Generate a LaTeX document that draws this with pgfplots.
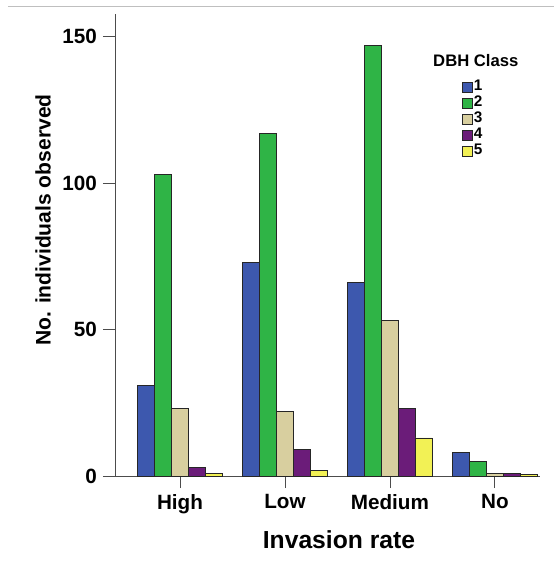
\documentclass[border=0pt]{standalone}
\usepackage{pgfplots}
\pgfplotsset{compat=1.18}
\usepackage{fontspec}
\setmainfont{Liberation Sans}
\definecolor{c1}{HTML}{3D58AE}
\definecolor{c2}{HTML}{2FB446}
\definecolor{c3}{HTML}{D8CF9F}
\definecolor{c4}{HTML}{6B1C79}
\definecolor{c5}{HTML}{F2F155}
\begin{document}
\begin{tikzpicture}
\path[use as bounding box] (-86.25pt,-67.5pt) rectangle (329.25pt,357pt);
\draw[black!25, line width=0.6pt] (-80.25pt,352.5pt) -- (329.25pt,352.5pt);
\begin{axis}[
  at={(0,0)}, anchor=south west,
  scale only axis,
  width=318.75pt, height=346.5pt,
  ybar=0pt, bar width=0.162,
  xmin=-0.619, xmax=3.43,
  ymin=0, ymax=157.8,
  axis x line*=bottom, axis y line*=left,
  axis line style={black!70, line width=0.6pt},
  xtick={0,1,2,3},
  xticklabels={High,Low,Medium,No},
  ytick={0,50,100,150},
  tick align=outside,
  major tick length=9pt,
  tick style={black!70, line width=0.6pt},
  /pgf/number format/assume math mode=true,
  tick label style={font=\fontsize{15.5}{18}\selectfont\bfseries},
  xticklabel style={yshift=-1pt},
  yticklabel style={xshift=-1pt},
  xlabel={Invasion rate},
  ylabel={No. individuals observed},
  xlabel style={font=\fontsize{18.5}{22}\selectfont\bfseries, at={(axis description cs:0.527,-0.1385)}, anchor=center},
  ylabel style={font=\fontsize{15.8}{19}\selectfont\bfseries, at={(axis description cs:-0.169,0.554)}, anchor=center},
  every axis plot/.append style={draw=black!85, line width=0.6pt},
  legend cell align=left,
  legend style={draw=none, fill=none, at={(axis description cs:0.8165,0.861)}, anchor=north west,
    font=\fontsize{11.5}{12}\selectfont\bfseries, row sep=0pt, inner sep=0pt,
    nodes={inner sep=0.5pt, text height=8.5pt, text depth=2.5pt},
    /tikz/every even column/.append style={column sep=1pt}},
  legend image code/.code={\draw[#1] (0pt,-4.5pt) rectangle (7.5pt,3pt);},
]
\addplot[fill=c1] coordinates {(0,31) (1,73) (2,66) (3,8)};
\addplot[fill=c2] coordinates {(0,103) (1,117) (2,147) (3,5)};
\addplot[fill=c3] coordinates {(0,23) (1,22) (2,53) (3,1)};
\addplot[fill=c4] coordinates {(0,3) (1,9) (2,23) (3,1)};
\addplot[fill=c5] coordinates {(0,1) (1,2) (2,13) (3,0.5)};
\legend{1,2,3,4,5}
\node[font=\fontsize{12.5}{14}\selectfont\bfseries, anchor=center] at (axis description cs:0.849,0.9) {DBH Class};
\end{axis}
\end{tikzpicture}
\end{document}
